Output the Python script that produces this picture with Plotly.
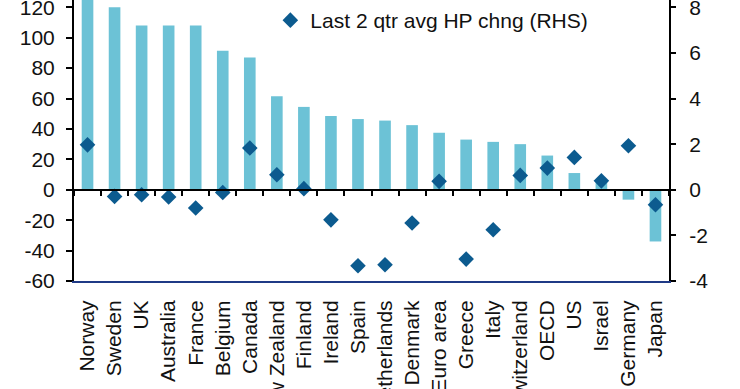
import plotly.graph_objects as go

countries = ["Norway", "Sweden", "UK", "Australia", "France", "Belgium", "Canada",
             "New Zealand", "Finland", "Ireland", "Spain", "Netherlands", "Denmark",
             "Euro area", "Greece", "Italy", "Switzerland", "OECD", "US", "Israel",
             "Germany", "Japan"]
bar_values = [130, 120, 108, 108, 108, 91.5, 87, 61.5, 54.5, 48.5, 46.5, 45.5, 42.5,
              37.5, 33, 31.5, 30, 22.5, 11, 6, -6.5, -34]
hp_change = [1.97, -0.29, -0.22, -0.32, -0.80, -0.12, 1.83, 0.66, 0.05, -1.32, -3.33,
             -3.29, -1.46, 0.37, -3.04, -1.75, 0.63, 0.95, 1.42, 0.39, 1.93, -0.66]
left_ticks = [-60, -40, -20, 0, 20, 40, 60, 80, 100, 120]
left_ticktext = ["-60", "-40", "-20", "0", "20", "40", "60", "80", "100", "120"]
right_ticks = [-4, -2, 0, 2, 4, 6, 8]
right_ticktext = ["-4", "-2", "0", "2", "4", "6", "8"]

FONT = "Liberation Sans, Arial, sans-serif"
left_range = [-60, 124.8]
right_range = [-4, 124.8 / 15]
zero_pos = (0 - left_range[0]) / (left_range[1] - left_range[0])
x_range = [-0.5, len(countries) - 0.5]

fig = go.Figure()
fig.add_trace(go.Bar(x=countries, y=bar_values, marker=dict(color="#6CC2D6", line=dict(width=0)),
                     showlegend=False, xaxis="x", yaxis="y"))
# hidden helper trace so the zero-line category axis gets its categories
fig.add_trace(go.Scatter(x=countries, y=[0] * len(countries), mode="markers",
                         marker=dict(opacity=0), showlegend=False, hoverinfo="skip",
                         xaxis="x2", yaxis="y"))
fig.add_trace(go.Scatter(x=countries, y=hp_change, mode="markers", name="Last 2 qtr avg HP chng (RHS)",
                         marker=dict(symbol="diamond", size=12, color="#0C5B8F"),
                         xaxis="x", yaxis="y2"))

fig.update_layout(
    width=740, height=389,
    margin=dict(l=74, r=71, t=0, b=108),
    paper_bgcolor="white", plot_bgcolor="white",
    font=dict(family=FONT, size=21, color="#111"),
    bargap=0.57,
    xaxis=dict(type="category", categoryarray=countries, categoryorder="array", range=x_range,
               tickmode="array", tickvals=countries, ticktext=countries,
               tickangle=-90, showline=True, linecolor="#1F3A86", linewidth=2,
               ticks="", showgrid=False, zeroline=False, anchor="y", ticklabelstandoff=9,
               automargin=False, ticklabeloverflow="allow"),
    xaxis2=dict(type="category", categoryarray=countries, categoryorder="array",
                overlaying="x", matches="x", anchor="free", position=zero_pos,
                showline=True, linecolor="black", linewidth=1.5,
                ticks="outside", tickson="boundaries", ticklen=5, tickwidth=1.5, tickcolor="black",
                showticklabels=False, showgrid=False, zeroline=False, automargin=False),
    yaxis=dict(range=left_range, tickvals=left_ticks, ticktext=left_ticktext, anchor="x",
               showline=True, linecolor="black", linewidth=2,
               ticks="outside", ticklen=6, tickwidth=1.5, tickcolor="black",
               showgrid=False, zeroline=False, ticklabelstandoff=7,
               automargin=False, ticklabeloverflow="allow"),
    yaxis2=dict(range=right_range, tickvals=right_ticks, ticktext=right_ticktext,
                overlaying="y", side="right", anchor="x",
                showline=True, linecolor="black", linewidth=2,
                ticks="outside", ticklen=5, tickwidth=1.5, tickcolor="black",
                showgrid=False, zeroline=False, ticklabelstandoff=9,
                automargin=False, ticklabeloverflow="allow"),
    legend=dict(x=0.33, y=1.0, xanchor="left", yanchor="top", bgcolor="rgba(0,0,0,0)",
                font=dict(size=21), itemwidth=30),
)

fig.write_html("out.html", config={"displayModeBar": False},
               post_script="document.body.style.margin='0';document.body.style.overflow='hidden';")
